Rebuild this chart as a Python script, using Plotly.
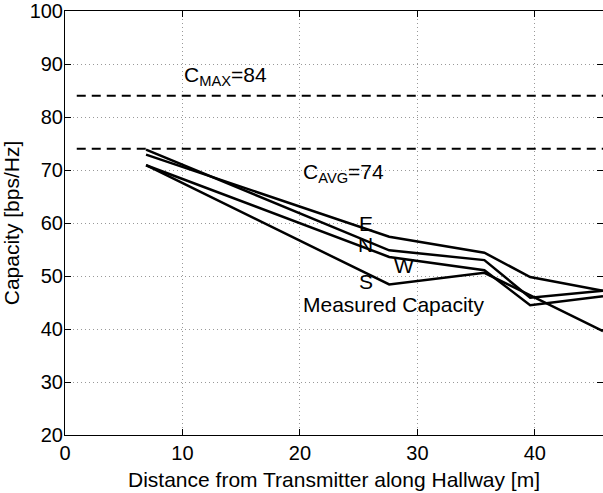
import plotly.graph_objects as go

# distances [m]
x_efn = [6.9, 27.6, 35.7, 39.6, 45.8]
x_s = [6.9, 27.6, 35.7, 45.8]
# measured capacity [bps/Hz]
cap_E = [72.9, 57.4, 54.4, 49.8, 47.2]
cap_N = [73.85, 54.85, 53.0, 45.9, 47.2]
cap_W = [70.9, 53.6, 51.1, 44.5, 46.2]
cap_S = [70.9, 48.4, 50.6, 39.6]
c_max = 84
c_avg = 74
ref_x = [1, 46]

x_ticks = [0, 10, 20, 30, 40]
y_ticks = [20, 30, 40, 50, 60, 70, 80, 90, 100]

FONT = "Liberation Sans, Arial, sans-serif"

fig = go.Figure()
for xs, ys, name in [(x_efn, cap_E, "E"), (x_efn, cap_N, "N"), (x_efn, cap_W, "W"), (x_s, cap_S, "S")]:
    fig.add_trace(go.Scatter(x=xs, y=ys, mode="lines", name=name,
                             line=dict(color="black", width=2.5), showlegend=False))
for val in (c_max, c_avg):
    fig.add_trace(go.Scatter(x=ref_x, y=[val, val], mode="lines", showlegend=False,
                             line=dict(color="black", width=2, dash="9px,6px")))

ann = [
    dict(x=10.0, y=87.8, text="C<sub>MAX</sub>=84", xanchor="left", yanchor="middle"),
    dict(x=20.1, y=69.5, text="C<sub>AVG</sub>=74", xanchor="left", yanchor="middle"),
    dict(x=25.6, y=59.9, text="E", xanchor="center", yanchor="middle"),
    dict(x=25.6, y=56.0, text="N", xanchor="center", yanchor="middle"),
    dict(x=28.9, y=52.0, text="W", xanchor="center", yanchor="middle"),
    dict(x=25.6, y=49.0, text="S", xanchor="center", yanchor="middle"),
    dict(x=20.1, y=44.7, text="Measured Capacity", xanchor="left", yanchor="middle"),
]
for a in ann:
    a.update(showarrow=False, font=dict(family=FONT, size=21, color="black"))

fig.update_layout(
    width=603, height=493,
    margin=dict(l=65, r=0, t=11, b=58, autoexpand=False),
    paper_bgcolor="white", plot_bgcolor="white",
    font=dict(family=FONT, size=20, color="black"),
    annotations=ann,
)
axis_common = dict(showline=True, linecolor="black", linewidth=1, mirror="ticks",
                   ticks="inside", ticklen=6, tickwidth=1, tickcolor="black",
                   showgrid=True, gridcolor="#999", griddash="1px,3px", gridwidth=1,
                   zeroline=False, automargin=False, ticklabeloverflow="allow",
                   tickfont=dict(family=FONT, size=20, color="black"))
fig.update_xaxes(range=[0, 45.8], tickvals=x_ticks,
                 title=dict(text="Distance from Transmitter along Hallway [m]",
                            font=dict(family=FONT, size=21), standoff=9),
                 **axis_common)
fig.update_yaxes(range=[20, 100], tickvals=y_ticks, ticklabelstandoff=-3,
                 title=dict(text="Capacity [bps/Hz]", font=dict(family=FONT, size=21), standoff=4),
                 **axis_common)

fig.write_html("out.html", config={"displayModeBar": False},
               post_script="document.body.style.margin='0';document.body.style.overflow='hidden';")
